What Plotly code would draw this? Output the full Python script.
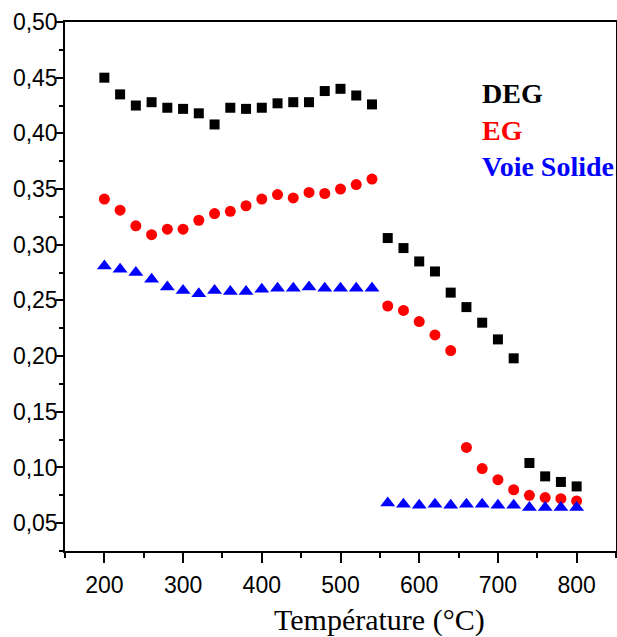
import plotly.graph_objects as go

temp_all = [200, 220, 240, 260, 280, 300, 320, 340, 360, 380, 400, 420, 440, 460, 480, 500, 520, 540,
            560, 580, 600, 620, 640, 660, 680, 700, 720, 740, 760, 780, 800]

# DEG (black squares)
deg_temp = [200, 220, 240, 260, 280, 300, 320, 340, 360, 380, 400, 420, 440, 460, 480, 500, 520, 540,
            560, 580, 600, 620, 640, 660, 680, 700, 720,
            740, 760, 780, 800]
deg_vals = [0.450, 0.435, 0.425, 0.428, 0.423, 0.422, 0.418, 0.408, 0.423, 0.422, 0.423, 0.427, 0.428, 0.428,
            0.438, 0.440, 0.434, 0.426,
            0.306, 0.297, 0.285, 0.276, 0.257, 0.244, 0.230, 0.215, 0.198,
            0.104, 0.092, 0.087, 0.083]

# EG (red circles)
eg_temp = temp_all
eg_vals = [0.341, 0.331, 0.317, 0.309, 0.314, 0.314, 0.322, 0.328, 0.330, 0.335, 0.341, 0.345, 0.342, 0.347,
           0.346, 0.350, 0.354, 0.359,
           0.245, 0.241, 0.231, 0.219, 0.205,
           0.118, 0.099, 0.089, 0.080, 0.075, 0.073, 0.072, 0.070]

# Voie Solide (blue triangles)
vs_temp = temp_all
vs_vals = [0.281, 0.278, 0.275, 0.269, 0.262, 0.259, 0.256, 0.259, 0.258, 0.258, 0.260, 0.261, 0.261, 0.262,
           0.261, 0.261, 0.261, 0.261,
           0.068, 0.067, 0.066, 0.067, 0.066, 0.067, 0.067, 0.066, 0.066, 0.064, 0.064, 0.064, 0.064]

legend_names = ["DEG", "EG", "Voie Solide"]
legend_colors = ["#000000", "#ff0000", "#0000ff"]
x_title = "Température (°C)"

fig = go.Figure()
fig.add_trace(go.Scatter(x=deg_temp, y=deg_vals, mode="markers", name="DEG",
                         marker=dict(symbol="square", size=10, color="#000000")))
fig.add_trace(go.Scatter(x=eg_temp, y=eg_vals, mode="markers", name="EG",
                         marker=dict(symbol="circle", size=11, color="#ff0000")))
fig.add_trace(go.Scatter(x=vs_temp, y=vs_vals, mode="markers", name="Voie Solide",
                         marker=dict(symbol="triangle-up", size=13, color="#0000ff")))

# text legend
leg_y = [0.436, 0.403, 0.370]
for name, col, yy in zip(legend_names, legend_colors, leg_y):
    fig.add_annotation(x=677, y=yy, xref="x", yref="y", text="<b>%s</b>" % name,
                       showarrow=False, xanchor="left", yanchor="middle",
                       font=dict(family="Liberation Serif", size=28, color=col))

fig.add_annotation(x=0.57, y=-0.13, xref="paper", yref="paper", text=x_title,
                   showarrow=False, xanchor="center", yanchor="middle",
                   font=dict(family="Liberation Serif", size=30, color="#000000"))

fig.update_layout(
    width=617, height=637,
    margin=dict(l=65, r=1, t=22, b=86),
    paper_bgcolor="white", plot_bgcolor="white",
    showlegend=False,
    separators=", ",
    font=dict(family="Liberation Sans", size=23, color="#000000"),
)
fig.update_xaxes(range=[150, 850], tick0=0, dtick=100, showgrid=False, zeroline=False, automargin=False,
                 showline=True, linecolor="black", linewidth=1.5, mirror=True,
                 ticks="outside", ticklen=10, tickwidth=1.5, tickcolor="black",
                 ticklabelstandoff=3,
                 minor=dict(dtick=50, tick0=0, ticks="outside", ticklen=5, tickwidth=1.5, tickcolor="black"),
                 tickfont=dict(family="Liberation Sans", size=23))
fig.update_yaxes(range=[0.025, 0.5], tick0=0, dtick=0.05, tickformat=".2f", showgrid=False, zeroline=False,
                 automargin=False,
                 showline=True, linecolor="black", linewidth=1.5, mirror=True,
                 ticks="outside", ticklen=7, tickwidth=1.5, tickcolor="black",
                 ticklabelstandoff=-6,
                 minor=dict(dtick=0.025, tick0=0, ticks="outside", ticklen=4, tickwidth=1.5, tickcolor="black"),
                 tickfont=dict(family="Liberation Sans", size=23))

fig.write_html("out.html", config={"displayModeBar": False},
               post_script="document.body.style.margin='0';document.body.style.overflow='hidden';")
